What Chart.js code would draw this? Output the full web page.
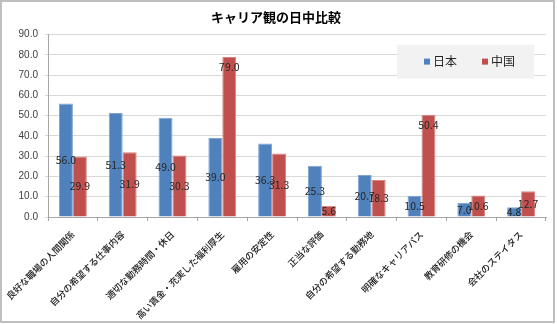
<!DOCTYPE html>
<html>
<head>
<meta charset="utf-8">
<script src="https://cdn.jsdelivr.net/npm/chart.js@4/dist/chart.umd.min.js"></script>
<style>
  html, body { margin: 0; padding: 0; background: #fff; }
  canvas { display: block; }
</style>
</head>
<body>
<canvas id="careerChart" width="557" height="324"></canvas>
<script>
// categories and values
const categories = [
    '良好な職場の人間関係',
    '自分の希望する仕事内容',
    '適切な勤務時間・休日',
    '高い賃金・充実した福利厚生',
    '雇用の安定性',
    '正当な評価',
    '自分の希望する勤務地',
    '明確なキャリアパス',
    '教育研修の機会',
    '会社のステイタス'
];
const japanValues = [56.0, 51.3, 49.0, 39.0, 36.3, 25.3, 20.7, 10.5, 7.0, 4.8];
const chinaValues = [29.9, 31.9, 30.3, 79.0, 31.3, 5.6, 18.3, 50.4, 10.6, 12.7];
const seriesNames = ['日本', '中国'];
const chartTitle = 'キャリア観の日中比較';

const FONT = '"Noto Sans CJK JP", "Liberation Sans", sans-serif';
const BLUE = '#4F81BD';
const RED = '#C0504D';

// outer frame of the chart
const framePlugin = {
    id: 'frame',
    beforeDraw(chart) {
        const ctx = chart.ctx;
        ctx.save();
        ctx.fillStyle = '#fff';
        ctx.fillRect(0, 0, chart.width, chart.height);
        ctx.strokeStyle = '#BFBFBF';
        ctx.lineWidth = 2;
        ctx.strokeRect(1, 1, chart.width - 4, chart.height - 3);
        ctx.restore();
    }
};

// value labels: centred in the bar, except the two tall China bars
// whose labels sit just under the top of the bar (as in the original)
const valueLabelPlugin = {
    id: 'valueLabels',
    afterDatasetsDraw(chart) {
        const ctx = chart.ctx;
        ctx.save();
        ctx.font = '10.5px ' + FONT;
        ctx.fillStyle = '#262626';
        ctx.textAlign = 'center';
        ctx.textBaseline = 'middle';
        chart.data.datasets.forEach((ds, i) => {
            const meta = chart.getDatasetMeta(i);
            meta.data.forEach((bar, j) => {
                let y = (bar.y + bar.base) / 2;
                if (i === 1 && ds.data[j] > 45) y = bar.y + 10;
                ctx.fillText(ds.data[j].toFixed(1), bar.x, y);
            });
        });
        ctx.restore();
    }
};

// legend box sitting inside the plot area, top right
const boxLegendPlugin = {
    id: 'boxLegend',
    afterDraw(chart) {
        const ctx = chart.ctx;
        const area = chart.chartArea;
        const boxX = area.right - 149, boxY = area.top + 10, boxW = 137, boxH = 34;
        ctx.save();
        ctx.fillStyle = '#F2F2F2';
        ctx.fillRect(boxX, boxY, boxW, boxH);
        ctx.font = '12px ' + FONT;
        ctx.textBaseline = 'middle';
        let x = boxX + 27;
        chart.data.datasets.forEach(ds => {
            ctx.fillStyle = ds.backgroundColor;
            ctx.fillRect(x, boxY + boxH / 2 - 3, 6, 6);
            ctx.fillStyle = '#262626';
            ctx.fillText(ds.label, x + 9, boxY + boxH / 2);
            x += 58;
        });
        ctx.restore();
    }
};

new Chart(document.getElementById('careerChart'), {
    type: 'bar',
    data: {
        labels: categories,
        datasets: [
            {
                label: seriesNames[0],
                data: japanValues,
                backgroundColor: BLUE,
                borderColor: '#7FA4D3',
                borderWidth: 1
            },
            {
                label: seriesNames[1],
                data: chinaValues,
                backgroundColor: RED,
                borderColor: '#D98482',
                borderWidth: 1
            }
        ]
    },
    options: {
        responsive: false,
        animation: false,
        layout: { padding: { left: 6, right: 11, top: 0, bottom: 4 } },
        datasets: {
            bar: { categoryPercentage: 0.56, barPercentage: 1.0 }
        },
        plugins: {
            legend: { display: false },
            tooltip: { enabled: false },
            title: {
                display: true,
                text: chartTitle,
                color: '#000',
                font: { family: FONT, size: 13, weight: 'bold' },
                padding: { top: 9, bottom: 10 }
            }
        },
        scales: {
            x: {
                grid: {
                    display: true,
                    drawOnChartArea: false,
                    drawTicks: true,
                    tickLength: 4,
                    color: '#A6A6A6'
                },
                border: { color: '#A6A6A6' },
                ticks: {
                    color: '#1A1A1A',
                    font: { family: FONT, size: 9.2, weight: '500' },
                    maxRotation: 45,
                    minRotation: 45,
                    autoSkip: false,
                    padding: 8
                },
                afterFit(scale) {
                    scale.height = 103;
                    // the first rotated label may hang into the left margin
                    scale.paddingLeft = 0;
                    scale.paddingRight = 0;
                }
            },
            y: {
                min: 0,
                max: 90,
                ticks: {
                    stepSize: 10,
                    color: '#404040',
                    font: { family: 'Liberation Sans', size: 10 },
                    padding: 7,
                    callback: v => v.toFixed(1)
                },
                grid: { color: '#D9D9D9', drawTicks: true, tickLength: 3 },
                border: { color: '#A6A6A6' },
                afterFit(scale) { scale.width = 42; }
            }
        }
    },
    plugins: [framePlugin, valueLabelPlugin, boxLegendPlugin]
});
</script>
</body>
</html>
